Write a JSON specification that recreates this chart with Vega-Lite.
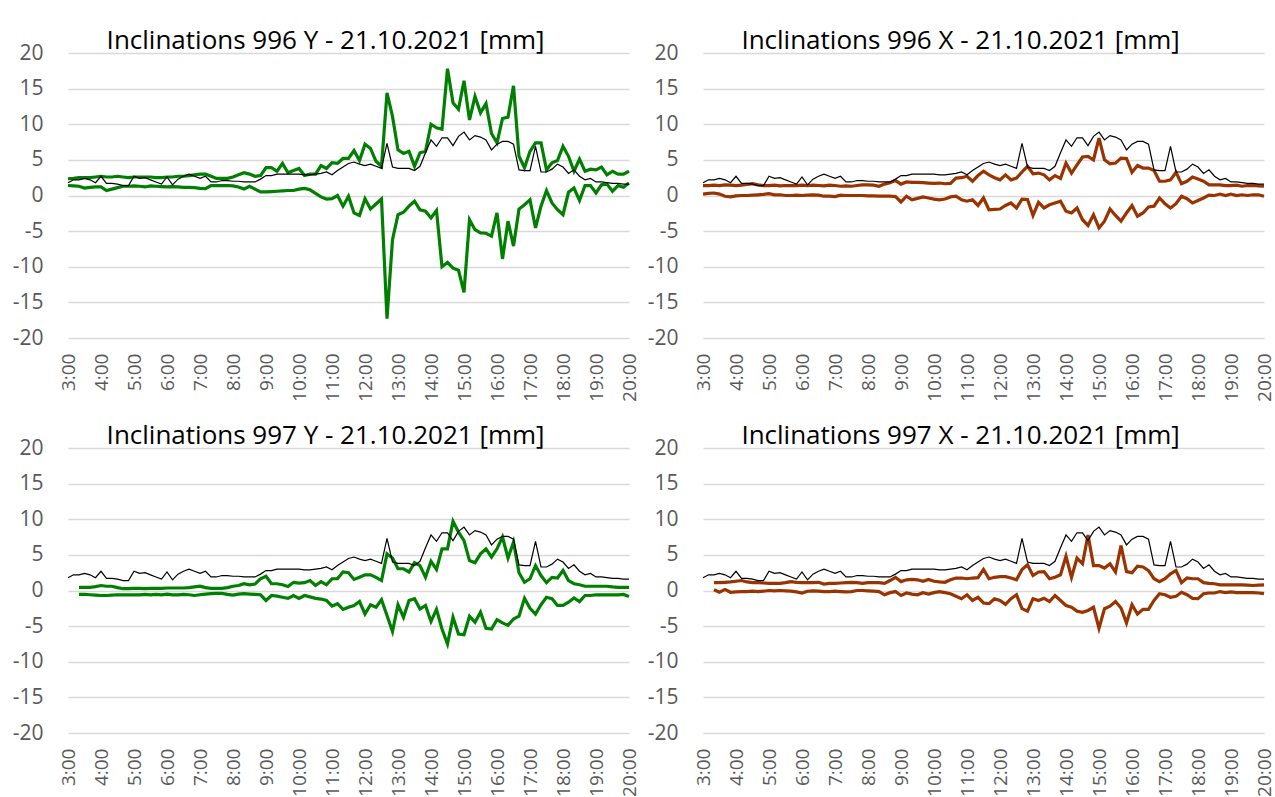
{
"$schema": "https://vega.github.io/schema/vega-lite/v6.json",
"background": "white",
"padding": {"left": 12, "top": 28, "right": 0, "bottom": 0},
"data": {"values": [
{"t":"2021-10-21T03:00","ref":1.8,"y996u":2.35,"y996l":1.4,"x996u":1.4,"x996l":0.2},
{"t":"2021-10-21T03:10","ref":2.2,"y996u":2.4,"y996l":1.35,"x996u":1.4,"x996l":0.3},
{"t":"2021-10-21T03:20","ref":2.2,"y996u":2.5,"y996l":1.3,"x996u":1.45,"x996l":0.35,"y997u":0.45,"y997l":-0.55,"x997u":1.1,"x997l":0.1},
{"t":"2021-10-21T03:30","ref":2.4,"y996u":2.5,"y996l":1.05,"x996u":1.4,"x996l":0.2,"y997u":0.45,"y997l":-0.55,"x997u":1.1,"x997l":-0.25},
{"t":"2021-10-21T03:40","ref":2.2,"y996u":2.5,"y996l":1.15,"x996u":1.5,"x996l":-0.1,"y997u":0.45,"y997l":-0.6,"x997u":1.15,"x997l":0.15},
{"t":"2021-10-21T03:50","ref":1.8,"y996u":2.6,"y996l":1.2,"x996u":1.45,"x996l":-0.2,"y997u":0.55,"y997l":-0.65,"x997u":1.2,"x997l":-0.25},
{"t":"2021-10-21T04:00","ref":2.7,"y996u":2.7,"y996l":1.2,"x996u":1.4,"x996l":-0.05,"y997u":0.7,"y997l":-0.7,"x997u":1.3,"x997l":-0.2},
{"t":"2021-10-21T04:10","ref":1.7,"y996u":2.6,"y996l":0.7,"x996u":1.45,"x996l":0.0,"y997u":0.6,"y997l":-0.7,"x997u":1.4,"x997l":-0.15},
{"t":"2021-10-21T04:20","ref":1.7,"y996u":2.6,"y996l":0.9,"x996u":1.55,"x996l":0.0,"y997u":0.6,"y997l":-0.65,"x997u":1.2,"x997l":-0.15},
{"t":"2021-10-21T04:30","ref":1.6,"y996u":2.7,"y996l":1.1,"x996u":1.65,"x996l":0.05,"y997u":0.4,"y997l":-0.6,"x997u":1.1,"x997l":-0.1},
{"t":"2021-10-21T04:40","ref":1.4,"y996u":2.6,"y996l":1.3,"x996u":1.5,"x996l":0.1,"y997u":0.25,"y997l":-0.6,"x997u":1.1,"x997l":-0.15},
{"t":"2021-10-21T04:50","ref":1.4,"y996u":2.5,"y996l":1.3,"x996u":1.4,"x996l":0.15,"y997u":0.25,"y997l":-0.6,"x997u":1.05,"x997l":-0.1},
{"t":"2021-10-21T05:00","ref":2.7,"y996u":2.6,"y996l":1.35,"x996u":1.4,"x996l":0.25,"y997u":0.3,"y997l":-0.6,"x997u":1.0,"x997l":0.0},
{"t":"2021-10-21T05:10","ref":2.4,"y996u":2.6,"y996l":1.3,"x996u":1.45,"x996l":0.1,"y997u":0.3,"y997l":-0.6,"x997u":1.0,"x997l":-0.05},
{"t":"2021-10-21T05:20","ref":2.5,"y996u":2.6,"y996l":1.2,"x996u":1.35,"x996l":0.1,"y997u":0.25,"y997l":-0.55,"x997u":1.0,"x997l":0.0},
{"t":"2021-10-21T05:30","ref":2.2,"y996u":2.6,"y996l":1.35,"x996u":1.4,"x996l":0.0,"y997u":0.3,"y997l":-0.6,"x997u":1.1,"x997l":-0.05},
{"t":"2021-10-21T05:40","ref":1.9,"y996u":2.5,"y996l":1.3,"x996u":1.4,"x996l":0.0,"y997u":0.3,"y997l":-0.55,"x997u":1.25,"x997l":-0.1},
{"t":"2021-10-21T05:50","ref":1.6,"y996u":2.5,"y996l":1.25,"x996u":1.4,"x996l":0.05,"y997u":0.3,"y997l":-0.6,"x997u":1.15,"x997l":-0.2},
{"t":"2021-10-21T06:00","ref":2.6,"y996u":2.6,"y996l":1.2,"x996u":1.45,"x996l":0.0,"y997u":0.35,"y997l":-0.5,"x997u":1.1,"x997l":-0.35},
{"t":"2021-10-21T06:10","ref":1.5,"y996u":2.6,"y996l":1.25,"x996u":1.4,"x996l":0.05,"y997u":0.35,"y997l":-0.6,"x997u":1.1,"x997l":-0.1},
{"t":"2021-10-21T06:20","ref":2.3,"y996u":2.7,"y996l":1.2,"x996u":1.45,"x996l":0.1,"y997u":0.35,"y997l":-0.6,"x997u":1.1,"x997l":-0.05},
{"t":"2021-10-21T06:30","ref":2.7,"y996u":2.7,"y996l":1.15,"x996u":1.4,"x996l":0.05,"y997u":0.35,"y997l":-0.55,"x997u":1.15,"x997l":-0.1},
{"t":"2021-10-21T06:40","ref":3.0,"y996u":2.8,"y996l":1.15,"x996u":1.35,"x996l":-0.1,"y997u":0.4,"y997l":-0.6,"x997u":0.9,"x997l":-0.15},
{"t":"2021-10-21T06:50","ref":2.7,"y996u":2.9,"y996l":1.1,"x996u":1.45,"x996l":-0.1,"y997u":0.5,"y997l":-0.7,"x997u":1.0,"x997l":-0.15},
{"t":"2021-10-21T07:00","ref":2.4,"y996u":3.0,"y996l":1.0,"x996u":1.4,"x996l":-0.15,"y997u":0.6,"y997l":-0.6,"x997u":1.0,"x997l":-0.1},
{"t":"2021-10-21T07:10","ref":2.7,"y996u":3.0,"y996l":0.95,"x996u":1.3,"x996l":0.05,"y997u":0.4,"y997l":-0.5,"x997u":1.05,"x997l":-0.15},
{"t":"2021-10-21T07:20","ref":1.9,"y996u":2.7,"y996l":1.4,"x996u":1.35,"x996l":0.0,"y997u":0.3,"y997l":-0.45,"x997u":1.1,"x997l":-0.2},
{"t":"2021-10-21T07:30","ref":1.9,"y996u":2.4,"y996l":1.4,"x996u":1.3,"x996l":0.0,"y997u":0.3,"y997l":-0.4,"x997u":1.15,"x997l":-0.15},
{"t":"2021-10-21T07:40","ref":2.1,"y996u":2.4,"y996l":1.4,"x996u":1.4,"x996l":0.0,"y997u":0.3,"y997l":-0.4,"x997u":1.1,"x997l":0.0},
{"t":"2021-10-21T07:50","ref":2.1,"y996u":2.4,"y996l":1.4,"x996u":1.5,"x996l":0.0,"y997u":0.4,"y997l":-0.55,"x997u":1.0,"x997l":0.0},
{"t":"2021-10-21T08:00","ref":2.0,"y996u":2.6,"y996l":1.35,"x996u":1.5,"x996l":-0.05,"y997u":0.6,"y997l":-0.65,"x997u":1.1,"x997l":-0.05},
{"t":"2021-10-21T08:10","ref":2.0,"y996u":2.9,"y996l":1.2,"x996u":1.45,"x996l":-0.05,"y997u":0.7,"y997l":-0.5,"x997u":1.1,"x997l":-0.1},
{"t":"2021-10-21T08:20","ref":1.9,"y996u":3.2,"y996l":0.9,"x996u":1.3,"x996l":-0.1,"y997u":0.95,"y997l":-0.45,"x997u":1.1,"x997l":-0.15},
{"t":"2021-10-21T08:30","ref":1.9,"y996u":3.0,"y996l":1.3,"x996u":1.6,"x996l":-0.1,"y997u":0.8,"y997l":-0.5,"x997u":1.0,"x997l":-0.6},
{"t":"2021-10-21T08:40","ref":1.9,"y996u":2.7,"y996l":0.9,"x996u":1.8,"x996l":-0.1,"y997u":0.9,"y997l":-0.55,"x997u":1.4,"x997l":-0.3},
{"t":"2021-10-21T08:50","ref":2.3,"y996u":2.8,"y996l":0.5,"x996u":2.1,"x996l":-0.15,"y997u":1.65,"y997l":-0.6,"x997u":1.85,"x997l":-0.15},
{"t":"2021-10-21T09:00","ref":2.8,"y996u":3.9,"y996l":0.5,"x996u":1.6,"x996l":-0.9,"y997u":2.0,"y997l":-1.4,"x997u":1.25,"x997l":-0.7},
{"t":"2021-10-21T09:10","ref":2.8,"y996u":3.9,"y996l":0.55,"x996u":1.9,"x996l":-0.1,"y997u":0.95,"y997l":-0.7,"x997u":1.5,"x997l":-0.35},
{"t":"2021-10-21T09:20","ref":3.0,"y996u":3.4,"y996l":0.6,"x996u":1.85,"x996l":-0.6,"y997u":0.95,"y997l":-0.8,"x997u":1.55,"x997l":-0.5},
{"t":"2021-10-21T09:30","ref":3.0,"y996u":4.5,"y996l":0.65,"x996u":1.85,"x996l":-0.4,"y997u":0.8,"y997l":-0.95,"x997u":1.5,"x997l":-0.6},
{"t":"2021-10-21T09:40","ref":3.0,"y996u":3.2,"y996l":0.7,"x996u":1.8,"x996l":-0.2,"y997u":0.55,"y997l":-1.1,"x997u":1.3,"x997l":-0.3},
{"t":"2021-10-21T09:50","ref":3.0,"y996u":3.5,"y996l":0.7,"x996u":1.75,"x996l":-0.35,"y997u":1.15,"y997l":-0.7,"x997u":1.55,"x997l":-0.5},
{"t":"2021-10-21T10:00","ref":3.0,"y996u":3.8,"y996l":0.9,"x996u":1.7,"x996l":-0.5,"y997u":1.05,"y997l":-1.1,"x997u":1.3,"x997l":-0.3},
{"t":"2021-10-21T10:10","ref":2.9,"y996u":2.8,"y996l":1.0,"x996u":1.75,"x996l":-0.6,"y997u":1.1,"y997l":-0.7,"x997u":1.2,"x997l":-0.15},
{"t":"2021-10-21T10:20","ref":2.9,"y996u":3.0,"y996l":0.8,"x996u":1.65,"x996l":-0.5,"y997u":1.4,"y997l":-0.9,"x997u":1.15,"x997l":-0.3},
{"t":"2021-10-21T10:30","ref":3.0,"y996u":3.0,"y996l":0.3,"x996u":1.7,"x996l":-0.2,"y997u":0.7,"y997l":-1.1,"x997u":1.5,"x997l":-0.45},
{"t":"2021-10-21T10:40","ref":3.1,"y996u":4.2,"y996l":-0.2,"x996u":2.45,"x996l":-0.1,"y997u":1.25,"y997l":-1.2,"x997u":1.75,"x997l":-0.8},
{"t":"2021-10-21T10:50","ref":3.3,"y996u":3.8,"y996l":-0.5,"x996u":2.5,"x996l":-0.6,"y997u":0.8,"y997l":-1.4,"x997u":1.75,"x997l":-1.15},
{"t":"2021-10-21T11:00","ref":2.9,"y996u":4.6,"y996l":-0.45,"x996u":2.7,"x996l":-0.8,"y997u":1.65,"y997l":-2.2,"x997u":1.65,"x997l":-0.6},
{"t":"2021-10-21T11:10","ref":3.5,"y996u":4.5,"y996l":0.0,"x996u":2.0,"x996l":-0.6,"y997u":1.65,"y997l":-1.85,"x997u":1.75,"x997l":-1.4},
{"t":"2021-10-21T11:20","ref":4.0,"y996u":5.2,"y996l":-1.5,"x996u":2.8,"x996l":-1.4,"y997u":2.6,"y997l":-2.65,"x997u":1.8,"x997l":-0.95},
{"t":"2021-10-21T11:30","ref":4.5,"y996u":5.2,"y996l":-0.1,"x996u":3.4,"x996l":-0.35,"y997u":2.5,"y997l":-2.35,"x997u":2.95,"x997l":-1.75},
{"t":"2021-10-21T11:40","ref":4.7,"y996u":6.3,"y996l":-2.45,"x996u":2.9,"x996l":-2.0,"y997u":1.55,"y997l":-2.1,"x997u":1.65,"x997l":-1.85},
{"t":"2021-10-21T11:50","ref":4.4,"y996u":4.9,"y996l":-2.8,"x996u":2.5,"x996l":-1.95,"y997u":1.85,"y997l":-1.55,"x997u":1.85,"x997l":-1.15},
{"t":"2021-10-21T12:00","ref":4.2,"y996u":7.2,"y996l":-0.45,"x996u":2.2,"x996l":-1.9,"y997u":2.2,"y997l":-3.3,"x997u":1.95,"x997l":-1.4},
{"t":"2021-10-21T12:10","ref":4.4,"y996u":6.6,"y996l":-1.9,"x996u":2.9,"x996l":-1.4,"y997u":2.2,"y997l":-2.0,"x997u":1.95,"x997l":-1.95},
{"t":"2021-10-21T12:20","ref":4.1,"y996u":4.8,"y996l":-1.2,"x996u":2.2,"x996l":-1.05,"y997u":1.85,"y997l":-2.35,"x997u":1.75,"x997l":-1.15},
{"t":"2021-10-21T12:30","ref":3.8,"y996u":4.1,"y996l":-0.5,"x996u":2.45,"x996l":-1.75,"y997u":1.4,"y997l":-1.3,"x997u":1.5,"x997l":-0.6},
{"t":"2021-10-21T12:40","ref":7.3,"y996u":14.4,"y996l":-17.3,"x996u":3.3,"x996l":-0.5,"y997u":5.15,"y997l":-3.5,"x997u":2.95,"x997l":-2.55},
{"t":"2021-10-21T12:50","ref":4.0,"y996u":11.1,"y996l":-6.2,"x996u":4.1,"x996l":-0.55,"y997u":4.55,"y997l":-5.75,"x997u":3.6,"x997l":-2.9},
{"t":"2021-10-21T13:00","ref":3.8,"y996u":6.4,"y996l":-2.7,"x996u":3.05,"x996l":-2.8,"y997u":3.05,"y997l":-2.0,"x997u":2.1,"x997l":-1.15},
{"t":"2021-10-21T13:10","ref":3.8,"y996u":5.9,"y996l":-2.35,"x996u":3.15,"x996l":-0.95,"y997u":3.05,"y997l":-3.75,"x997u":2.6,"x997l":-1.4},
{"t":"2021-10-21T13:20","ref":3.8,"y996u":6.2,"y996l":-1.5,"x996u":2.9,"x996l":-1.75,"y997u":2.6,"y997l":-1.4,"x997u":2.65,"x997l":-1.1},
{"t":"2021-10-21T13:30","ref":3.5,"y996u":4.1,"y996l":-0.8,"x996u":2.2,"x996l":-1.3,"y997u":3.9,"y997l":-1.15,"x997u":1.65,"x997l":-1.55},
{"t":"2021-10-21T13:40","ref":4.1,"y996u":6.0,"y996l":-2.0,"x996u":2.8,"x996l":-1.05,"y997u":3.5,"y997l":-2.6,"x997u":1.85,"x997l":-0.7},
{"t":"2021-10-21T13:50","ref":6.0,"y996u":6.2,"y996l":-2.2,"x996u":2.4,"x996l":-0.8,"y997u":1.85,"y997l":-2.1,"x997u":2.2,"x997l":-1.4},
{"t":"2021-10-21T14:00","ref":7.8,"y996u":10.0,"y996l":-3.15,"x996u":4.55,"x996l":-2.2,"y997u":4.1,"y997l":-4.35,"x997u":4.8,"x997l":-2.1},
{"t":"2021-10-21T14:10","ref":6.9,"y996u":9.5,"y996l":-2.1,"x996u":3.15,"x996l":-2.45,"y997u":2.95,"y997l":-2.65,"x997u":1.85,"x997l":-2.35},
{"t":"2021-10-21T14:20","ref":8.1,"y996u":9.3,"y996l":-10.0,"x996u":4.3,"x996l":-1.75,"y997u":5.85,"y997l":-5.4,"x997u":4.55,"x997l":-2.9},
{"t":"2021-10-21T14:30","ref":8.1,"y996u":17.8,"y996l":-9.4,"x996u":5.4,"x996l":-3.4,"y997u":5.85,"y997l":-7.5,"x997u":3.75,"x997l":-3.05},
{"t":"2021-10-21T14:40","ref":7.0,"y996u":13.0,"y996l":-10.2,"x996u":5.5,"x996l":-4.2,"y997u":9.7,"y997l":-3.75,"x997u":7.8,"x997l":-2.8},
{"t":"2021-10-21T14:50","ref":8.3,"y996u":12.1,"y996l":-10.5,"x996u":5.0,"x996l":-2.7,"y997u":8.2,"y997l":-6.1,"x997u":3.5,"x997l":-2.35},
{"t":"2021-10-21T15:00","ref":8.9,"y996u":16.1,"y996l":-13.6,"x996u":8.05,"x996l":-4.55,"y997u":7.0,"y997l":-6.2,"x997u":3.5,"x997l":-5.3},
{"t":"2021-10-21T15:10","ref":7.8,"y996u":10.6,"y996l":-3.4,"x996u":5.0,"x996l":-3.6,"y997u":4.2,"y997l":-3.6,"x997u":3.15,"x997l":-2.55},
{"t":"2021-10-21T15:20","ref":8.4,"y996u":13.9,"y996l":-4.8,"x996u":4.45,"x996l":-1.9,"y997u":3.9,"y997l":-4.45,"x997u":3.75,"x997l":-2.2},
{"t":"2021-10-21T15:30","ref":8.2,"y996u":11.6,"y996l":-5.25,"x996u":4.55,"x996l":-2.8,"y997u":5.15,"y997l":-3.05,"x997u":2.6,"x997l":-1.55},
{"t":"2021-10-21T15:40","ref":7.8,"y996u":12.9,"y996l":-5.3,"x996u":5.25,"x996l":-3.6,"y997u":5.85,"y997l":-5.3,"x997u":6.3,"x997l":-2.45},
{"t":"2021-10-21T15:50","ref":6.4,"y996u":8.7,"y996l":-5.7,"x996u":5.2,"x996l":-2.45,"y997u":4.7,"y997l":-5.4,"x997u":2.65,"x997l":-4.55},
{"t":"2021-10-21T16:00","ref":7.2,"y996u":7.4,"y996l":-2.45,"x996u":3.25,"x996l":-1.4,"y997u":5.85,"y997l":-4.1,"x997u":2.5,"x997l":-2.0},
{"t":"2021-10-21T16:10","ref":7.6,"y996u":10.8,"y996l":-8.9,"x996u":4.2,"x996l":-2.9,"y997u":7.5,"y997l":-4.55,"x997u":3.4,"x997l":-3.3},
{"t":"2021-10-21T16:20","ref":7.6,"y996u":11.0,"y996l":-3.6,"x996u":3.85,"x996l":-2.45,"y997u":4.55,"y997l":-4.9,"x997u":3.3,"x997l":-2.65},
{"t":"2021-10-21T16:30","ref":7.2,"y996u":15.4,"y996l":-7.1,"x996u":3.85,"x996l":-1.6,"y997u":6.8,"y997l":-4.0,"x997u":2.8,"x997l":-2.65},
{"t":"2021-10-21T16:40","ref":3.6,"y996u":5.5,"y996l":-1.9,"x996u":3.5,"x996l":-1.5,"y997u":2.5,"y997l":-3.6,"x997u":1.65,"x997l":-1.4},
{"t":"2021-10-21T16:50","ref":3.5,"y996u":3.9,"y996l":-1.3,"x996u":2.0,"x996l":-0.35,"y997u":1.15,"y997l":-1.1,"x997u":1.25,"x997l":-0.45},
{"t":"2021-10-21T17:00","ref":3.5,"y996u":6.2,"y996l":-0.6,"x996u":2.0,"x996l":-1.15,"y997u":1.65,"y997l":-2.5,"x997u":1.65,"x997l":-0.6},
{"t":"2021-10-21T17:10","ref":6.9,"y996u":7.4,"y996l":-4.55,"x996u":2.2,"x996l":-1.75,"y997u":3.5,"y997l":-3.3,"x997u":2.35,"x997l":-0.95},
{"t":"2021-10-21T17:20","ref":3.3,"y996u":7.4,"y996l":-1.5,"x996u":3.25,"x996l":-1.15,"y997u":2.1,"y997l":-2.0,"x997u":2.8,"x997l":-0.8},
{"t":"2021-10-21T17:30","ref":3.3,"y996u":3.6,"y996l":0.7,"x996u":1.65,"x996l":-0.1,"y997u":1.1,"y997l":-0.95,"x997u":1.1,"x997l":-0.25},
{"t":"2021-10-21T17:40","ref":3.7,"y996u":4.6,"y996l":-1.05,"x996u":2.0,"x996l":-0.45,"y997u":1.85,"y997l":-1.15,"x997u":1.75,"x997l":-0.6},
{"t":"2021-10-21T17:50","ref":4.4,"y996u":4.9,"y996l":-2.0,"x996u":2.6,"x996l":-1.05,"y997u":1.75,"y997l":-2.1,"x997u":1.65,"x997l":-1.1},
{"t":"2021-10-21T18:00","ref":4.0,"y996u":6.9,"y996l":-2.7,"x996u":2.3,"x996l":-0.7,"y997u":2.8,"y997l":-2.1,"x997u":1.65,"x997l":-1.15},
{"t":"2021-10-21T18:10","ref":3.1,"y996u":5.5,"y996l":0.45,"x996u":2.0,"x996l":-0.35,"y997u":1.4,"y997l":-1.65,"x997u":1.1,"x997l":-0.45},
{"t":"2021-10-21T18:20","ref":3.6,"y996u":3.4,"y996l":1.05,"x996u":1.5,"x996l":0.05,"y997u":0.95,"y997l":-1.05,"x997u":1.0,"x997l":-0.35},
{"t":"2021-10-21T18:30","ref":2.7,"y996u":5.1,"y996l":-0.7,"x996u":1.5,"x996l":0.0,"y997u":0.8,"y997l":-1.55,"x997u":0.95,"x997l":-0.35},
{"t":"2021-10-21T18:40","ref":2.2,"y996u":3.4,"y996l":1.4,"x996u":1.5,"x996l":0.2,"y997u":0.6,"y997l":-0.7,"x997u":0.8,"x997l":-0.15},
{"t":"2021-10-21T18:50","ref":2.4,"y996u":3.7,"y996l":1.4,"x996u":1.4,"x996l":0.0,"y997u":0.6,"y997l":-0.7,"x997u":0.8,"x997l":-0.3},
{"t":"2021-10-21T19:00","ref":1.9,"y996u":3.6,"y996l":0.35,"x996u":1.4,"x996l":0.2,"y997u":0.6,"y997l":-0.6,"x997u":0.8,"x997l":-0.2},
{"t":"2021-10-21T19:10","ref":1.9,"y996u":4.0,"y996l":1.5,"x996u":1.45,"x996l":0.0,"y997u":0.6,"y997l":-0.6,"x997u":0.8,"x997l":-0.3},
{"t":"2021-10-21T19:20","ref":1.8,"y996u":2.9,"y996l":1.6,"x996u":1.3,"x996l":0.1,"y997u":0.6,"y997l":-0.6,"x997u":0.8,"x997l":-0.3},
{"t":"2021-10-21T19:30","ref":1.7,"y996u":3.4,"y996l":0.6,"x996u":1.4,"x996l":0.0,"y997u":0.5,"y997l":-0.6,"x997u":0.75,"x997l":-0.3},
{"t":"2021-10-21T19:40","ref":1.7,"y996u":3.0,"y996l":1.4,"x996u":1.4,"x996l":0.1,"y997u":0.45,"y997l":-0.6,"x997u":0.7,"x997l":-0.3},
{"t":"2021-10-21T19:50","ref":1.6,"y996u":3.0,"y996l":1.15,"x996u":1.35,"x996l":0.1,"y997u":0.45,"y997l":-0.55,"x997u":0.75,"x997l":-0.35},
{"t":"2021-10-21T20:00","ref":1.6,"y996u":3.4,"y996l":1.75,"x996u":1.3,"x996l":-0.1,"y997u":0.45,"y997l":-0.85,"x997u":0.8,"x997l":-0.45}
]},
"columns": 2,
"spacing": {"row": 21, "column": 8},
"concat": [
{"width": 561, "height": 285, "title": "Inclinations 996 Y - 21.10.2021 [mm]",
 "encoding": {
  "x": {"field": "t", "type": "temporal", "scale": {"nice": false}, "axis": {"format": "%-H:%M", "tickCount": 17, "title": null}}
 },
 "layer": [
  {"mark": {"type": "line", "color": "#008000", "strokeWidth": 3.2}, "encoding": {"y": {"field": "y996u", "type": "quantitative", "scale": {"domain": [-20, 20], "nice": false}, "axis": {"values": [-20, -15, -10, -5, 0, 5, 10, 15, 20], "title": null}}}},
  {"mark": {"type": "line", "color": "#008000", "strokeWidth": 3.2}, "encoding": {"y": {"field": "y996l", "type": "quantitative", "axis": {"values": [-20, -15, -10, -5, 0, 5, 10, 15, 20], "title": null}}}},
  {"mark": {"type": "line", "color": "#000000", "strokeWidth": 1.2}, "encoding": {"y": {"field": "ref", "type": "quantitative", "axis": {"values": [-20, -15, -10, -5, 0, 5, 10, 15, 20], "title": null}}}}
 ]},
{"width": 561, "height": 285, "title": "Inclinations 996 X - 21.10.2021 [mm]",
 "encoding": {
  "x": {"field": "t", "type": "temporal", "scale": {"nice": false}, "axis": {"format": "%-H:%M", "tickCount": 17, "title": null}}
 },
 "layer": [
  {"mark": {"type": "line", "color": "#993300", "strokeWidth": 3.2}, "encoding": {"y": {"field": "x996u", "type": "quantitative", "scale": {"domain": [-20, 20], "nice": false}, "axis": {"values": [-20, -15, -10, -5, 0, 5, 10, 15, 20], "title": null}}}},
  {"mark": {"type": "line", "color": "#993300", "strokeWidth": 3.2}, "encoding": {"y": {"field": "x996l", "type": "quantitative", "axis": {"values": [-20, -15, -10, -5, 0, 5, 10, 15, 20], "title": null}}}},
  {"mark": {"type": "line", "color": "#000000", "strokeWidth": 1.2}, "encoding": {"y": {"field": "ref", "type": "quantitative", "axis": {"values": [-20, -15, -10, -5, 0, 5, 10, 15, 20], "title": null}}}}
 ]},
{"width": 561, "height": 285, "title": "Inclinations 997 Y - 21.10.2021 [mm]",
 "encoding": {
  "x": {"field": "t", "type": "temporal", "scale": {"nice": false}, "axis": {"format": "%-H:%M", "tickCount": 17, "title": null}}
 },
 "layer": [
  {"mark": {"type": "line", "color": "#008000", "strokeWidth": 3.2}, "encoding": {"y": {"field": "y997u", "type": "quantitative", "scale": {"domain": [-20, 20], "nice": false}, "axis": {"values": [-20, -15, -10, -5, 0, 5, 10, 15, 20], "title": null}}}},
  {"mark": {"type": "line", "color": "#008000", "strokeWidth": 3.2}, "encoding": {"y": {"field": "y997l", "type": "quantitative", "axis": {"values": [-20, -15, -10, -5, 0, 5, 10, 15, 20], "title": null}}}},
  {"mark": {"type": "line", "color": "#000000", "strokeWidth": 1.2}, "encoding": {"y": {"field": "ref", "type": "quantitative", "axis": {"values": [-20, -15, -10, -5, 0, 5, 10, 15, 20], "title": null}}}}
 ]},
{"width": 561, "height": 285, "title": "Inclinations 997 X - 21.10.2021 [mm]",
 "encoding": {
  "x": {"field": "t", "type": "temporal", "scale": {"nice": false}, "axis": {"format": "%-H:%M", "tickCount": 17, "title": null}}
 },
 "layer": [
  {"mark": {"type": "line", "color": "#993300", "strokeWidth": 3.2}, "encoding": {"y": {"field": "x997u", "type": "quantitative", "scale": {"domain": [-20, 20], "nice": false}, "axis": {"values": [-20, -15, -10, -5, 0, 5, 10, 15, 20], "title": null}}}},
  {"mark": {"type": "line", "color": "#993300", "strokeWidth": 3.2}, "encoding": {"y": {"field": "x997l", "type": "quantitative", "axis": {"values": [-20, -15, -10, -5, 0, 5, 10, 15, 20], "title": null}}}},
  {"mark": {"type": "line", "color": "#000000", "strokeWidth": 1.2}, "encoding": {"y": {"field": "ref", "type": "quantitative", "axis": {"values": [-20, -15, -10, -5, 0, 5, 10, 15, 20], "title": null}}}}
 ]}
],
"config": {
 "view": {"stroke": null},
 "font": "Open Sans",
 "title": {"font": "Open Sans", "fontSize": 26, "fontWeight": "normal", "color": "#000000", "anchor": "middle", "frame": "bounds", "offset": -12},
 "axisX": {"grid": false, "domain": false, "ticks": false, "labelAngle": -90, "labelFontSize": 19, "labelColor": "#595959", "labelPadding": 15, "labelOverlap": false, "labelFont": "Open Sans"},
 "axisY": {"grid": true, "gridColor": "#D9D9D9", "gridWidth": 1.3, "domain": false, "ticks": false, "labelFontSize": 21, "labelColor": "#595959", "labelPadding": 25, "labelFont": "Open Sans", "labelOverlap": false, "labelExpr": "'' + datum.value"}
}
}
